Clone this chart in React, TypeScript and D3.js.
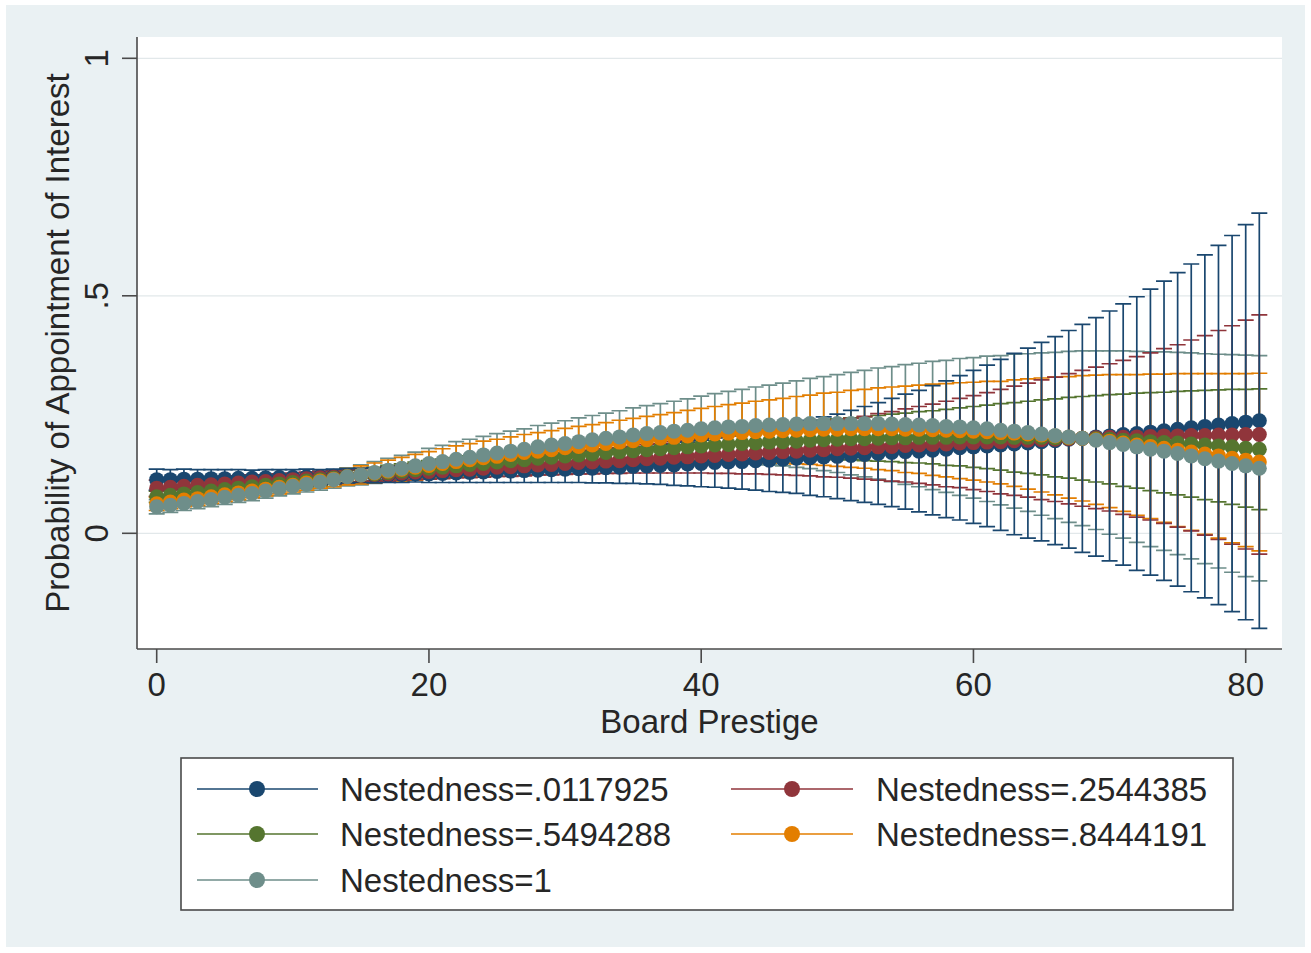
import React from 'react';
import * as d3 from 'd3';

// Board prestige values at which the predicted probabilities are evaluated
const prestige = [
  0, 1, 2, 3, 4, 5, 6, 7, 8, 9, 10, 11, 12, 13, 14, 15, 16, 17, 18, 19,
  20, 21, 22, 23, 24, 25, 26, 27, 28, 29, 30, 31, 32, 33, 34, 35, 36, 37, 38, 39,
  40, 41, 42, 43, 44, 45, 46, 47, 48, 49, 50, 51, 52, 53, 54, 55, 56, 57, 58, 59,
  60, 61, 62, 63, 64, 65, 66, 67, 68, 69, 70, 71, 72, 73, 74, 75, 76, 77, 78, 79,
  80, 81,
];

const seriesLabels = [
  'Nestedness=.0117925',
  'Nestedness=.2544385',
  'Nestedness=.5494288',
  'Nestedness=.8444191',
  'Nestedness=1',
];

// Predicted probability of appointment, one array per nestedness level
const estN0117925 = [
  0.113, 0.113, 0.114, 0.114, 0.115, 0.115, 0.116, 0.116, 0.117, 0.118,
  0.118, 0.119, 0.119, 0.120, 0.121, 0.122, 0.122, 0.123, 0.124, 0.125,
  0.125, 0.126, 0.127, 0.128, 0.129, 0.130, 0.131, 0.132, 0.133, 0.134,
  0.135, 0.136, 0.137, 0.138, 0.139, 0.141, 0.142, 0.143, 0.144, 0.146,
  0.147, 0.149, 0.150, 0.151, 0.153, 0.154, 0.156, 0.158, 0.159, 0.161,
  0.162, 0.164, 0.166, 0.168, 0.170, 0.172, 0.173, 0.175, 0.177, 0.180,
  0.182, 0.184, 0.186, 0.188, 0.190, 0.193, 0.195, 0.198, 0.200, 0.203,
  0.205, 0.208, 0.210, 0.213, 0.216, 0.219, 0.222, 0.225, 0.228, 0.231,
  0.234, 0.237,
];
const estN2544385 = [
  0.095, 0.097, 0.099, 0.101, 0.102, 0.104, 0.106, 0.108, 0.109, 0.111,
  0.113, 0.115, 0.117, 0.118, 0.120, 0.122, 0.124, 0.125, 0.127, 0.129,
  0.130, 0.132, 0.134, 0.135, 0.137, 0.139, 0.140, 0.142, 0.144, 0.145,
  0.147, 0.149, 0.150, 0.152, 0.153, 0.155, 0.157, 0.158, 0.160, 0.161,
  0.163, 0.164, 0.166, 0.167, 0.169, 0.170, 0.172, 0.173, 0.175, 0.176,
  0.178, 0.179, 0.180, 0.182, 0.183, 0.185, 0.186, 0.187, 0.188, 0.190,
  0.191, 0.192, 0.193, 0.195, 0.196, 0.197, 0.198, 0.199, 0.200, 0.201,
  0.202, 0.202, 0.203, 0.204, 0.205, 0.205, 0.206, 0.206, 0.207, 0.207,
  0.208, 0.208,
];
const estN5494288 = [
  0.077, 0.080, 0.083, 0.086, 0.089, 0.092, 0.095, 0.098, 0.101, 0.104,
  0.107, 0.110, 0.113, 0.116, 0.120, 0.123, 0.125, 0.128, 0.131, 0.134,
  0.137, 0.139, 0.142, 0.145, 0.147, 0.150, 0.153, 0.155, 0.158, 0.160,
  0.163, 0.165, 0.167, 0.170, 0.172, 0.174, 0.176, 0.178, 0.180, 0.182,
  0.184, 0.186, 0.187, 0.189, 0.190, 0.192, 0.193, 0.194, 0.196, 0.197,
  0.198, 0.199, 0.199, 0.200, 0.201, 0.201, 0.202, 0.202, 0.202, 0.203,
  0.203, 0.203, 0.203, 0.202, 0.202, 0.202, 0.201, 0.201, 0.200, 0.199,
  0.198, 0.196, 0.195, 0.193, 0.191, 0.190, 0.188, 0.186, 0.184, 0.182,
  0.179, 0.177,
];
const estN8444191 = [
  0.062, 0.066, 0.070, 0.073, 0.077, 0.081, 0.085, 0.089, 0.093, 0.097,
  0.101, 0.106, 0.110, 0.114, 0.119, 0.123, 0.127, 0.131, 0.135, 0.139,
  0.143, 0.147, 0.151, 0.155, 0.159, 0.162, 0.166, 0.170, 0.173, 0.176,
  0.180, 0.183, 0.186, 0.189, 0.192, 0.195, 0.197, 0.200, 0.202, 0.205,
  0.207, 0.209, 0.211, 0.212, 0.214, 0.215, 0.216, 0.217, 0.218, 0.219,
  0.219, 0.220, 0.220, 0.220, 0.220, 0.219, 0.219, 0.218, 0.217, 0.216,
  0.215, 0.214, 0.212, 0.211, 0.209, 0.207, 0.205, 0.202, 0.200, 0.197,
  0.194, 0.190, 0.186, 0.183, 0.179, 0.175, 0.171, 0.167, 0.163, 0.158,
  0.154, 0.150,
];
const estN1 = [
  0.056, 0.059, 0.063, 0.067, 0.071, 0.076, 0.080, 0.084, 0.089, 0.094,
  0.099, 0.103, 0.108, 0.113, 0.119, 0.123, 0.128, 0.133, 0.137, 0.142,
  0.147, 0.151, 0.156, 0.160, 0.165, 0.169, 0.173, 0.177, 0.182, 0.186,
  0.189, 0.193, 0.197, 0.200, 0.203, 0.207, 0.210, 0.212, 0.215, 0.217,
  0.220, 0.222, 0.224, 0.225, 0.227, 0.228, 0.229, 0.230, 0.231, 0.231,
  0.231, 0.231, 0.231, 0.231, 0.230, 0.229, 0.228, 0.227, 0.225, 0.224,
  0.222, 0.220, 0.217, 0.215, 0.212, 0.209, 0.206, 0.203, 0.200, 0.196,
  0.191, 0.187, 0.182, 0.177, 0.173, 0.168, 0.163, 0.157, 0.152, 0.147,
  0.142, 0.137,
];

// Half-width of the 95% confidence interval for each estimate
const moeN0117925 = [
  0.022, 0.021, 0.021, 0.020, 0.019, 0.019, 0.018, 0.017, 0.017, 0.016,
  0.016, 0.016, 0.015, 0.015, 0.015, 0.015, 0.016, 0.016, 0.017, 0.017,
  0.018, 0.019, 0.020, 0.021, 0.022, 0.023, 0.024, 0.025, 0.026, 0.027,
  0.028, 0.029, 0.031, 0.032, 0.034, 0.036, 0.038, 0.040, 0.043, 0.046,
  0.049, 0.052, 0.055, 0.058, 0.062, 0.066, 0.070, 0.074, 0.079, 0.084,
  0.089, 0.095, 0.101, 0.107, 0.114, 0.121, 0.128, 0.136, 0.144, 0.152,
  0.161, 0.170, 0.180, 0.191, 0.200, 0.209, 0.219, 0.229, 0.240, 0.251,
  0.263, 0.275, 0.288, 0.301, 0.315, 0.330, 0.345, 0.361, 0.378, 0.396,
  0.416, 0.437,
];
const moeN2544385 = [
  0.017, 0.017, 0.016, 0.016, 0.016, 0.015, 0.015, 0.015, 0.014, 0.014,
  0.014, 0.014, 0.014, 0.014, 0.014, 0.014, 0.014, 0.015, 0.015, 0.016,
  0.016, 0.017, 0.017, 0.018, 0.019, 0.019, 0.020, 0.021, 0.021, 0.022,
  0.023, 0.024, 0.025, 0.026, 0.027, 0.028, 0.030, 0.031, 0.033, 0.034,
  0.036, 0.038, 0.040, 0.042, 0.044, 0.046, 0.049, 0.051, 0.054, 0.057,
  0.060, 0.063, 0.066, 0.070, 0.073, 0.077, 0.081, 0.085, 0.090, 0.094,
  0.099, 0.104, 0.110, 0.115, 0.120, 0.126, 0.131, 0.137, 0.143, 0.149,
  0.155, 0.162, 0.169, 0.176, 0.184, 0.192, 0.201, 0.210, 0.220, 0.230,
  0.241, 0.252,
];
const moeN5494288 = [
  0.012, 0.012, 0.012, 0.012, 0.012, 0.012, 0.012, 0.012, 0.012, 0.012,
  0.012, 0.012, 0.012, 0.013, 0.013, 0.014, 0.014, 0.015, 0.015, 0.016,
  0.016, 0.017, 0.017, 0.018, 0.018, 0.019, 0.019, 0.020, 0.020, 0.021,
  0.021, 0.022, 0.023, 0.023, 0.024, 0.025, 0.026, 0.027, 0.028, 0.029,
  0.030, 0.031, 0.032, 0.033, 0.034, 0.036, 0.037, 0.038, 0.040, 0.041,
  0.043, 0.044, 0.046, 0.048, 0.050, 0.052, 0.054, 0.056, 0.059, 0.061,
  0.064, 0.067, 0.070, 0.073, 0.076, 0.079, 0.082, 0.085, 0.088, 0.091,
  0.094, 0.097, 0.100, 0.103, 0.106, 0.109, 0.112, 0.115, 0.118, 0.121,
  0.124, 0.127,
];
const moeN8444191 = [
  0.014, 0.014, 0.014, 0.014, 0.014, 0.014, 0.014, 0.014, 0.014, 0.014,
  0.014, 0.015, 0.015, 0.016, 0.017, 0.019, 0.021, 0.023, 0.025, 0.027,
  0.029, 0.031, 0.033, 0.034, 0.035, 0.036, 0.037, 0.038, 0.039, 0.040,
  0.041, 0.042, 0.043, 0.044, 0.046, 0.047, 0.049, 0.050, 0.052, 0.054,
  0.056, 0.058, 0.060, 0.062, 0.064, 0.066, 0.068, 0.071, 0.073, 0.076,
  0.078, 0.081, 0.083, 0.086, 0.088, 0.091, 0.093, 0.096, 0.098, 0.101,
  0.103, 0.106, 0.108, 0.112, 0.116, 0.120, 0.124, 0.128, 0.132, 0.136,
  0.140, 0.144, 0.148, 0.152, 0.156, 0.161, 0.165, 0.169, 0.173, 0.178,
  0.182, 0.187,
];
const moeN1 = [
  0.015, 0.015, 0.015, 0.015, 0.015, 0.015, 0.015, 0.015, 0.015, 0.015,
  0.016, 0.016, 0.017, 0.018, 0.019, 0.021, 0.023, 0.025, 0.027, 0.029,
  0.032, 0.034, 0.037, 0.038, 0.039, 0.041, 0.042, 0.043, 0.045, 0.046,
  0.048, 0.050, 0.051, 0.053, 0.055, 0.057, 0.059, 0.061, 0.063, 0.066,
  0.069, 0.072, 0.075, 0.078, 0.081, 0.084, 0.087, 0.091, 0.095, 0.099,
  0.103, 0.108, 0.112, 0.117, 0.121, 0.126, 0.130, 0.135, 0.139, 0.144,
  0.148, 0.153, 0.157, 0.162, 0.166, 0.171, 0.175, 0.180, 0.184, 0.188,
  0.193, 0.197, 0.201, 0.205, 0.209, 0.213, 0.217, 0.221, 0.225, 0.229,
  0.233, 0.237,
];

const xTicks = [0, 20, 40, 60, 80];
const yTicks = [0, 0.5, 1];
const yTickLabels = ['0', '.5', '1'];

const colors = ['#1a476f', '#90353b', '#55752f', '#e37e00', '#6e8e8a'];

const series = [
  { label: seriesLabels[0], color: colors[0], est: estN0117925, moe: moeN0117925 },
  { label: seriesLabels[1], color: colors[1], est: estN2544385, moe: moeN2544385 },
  { label: seriesLabels[2], color: colors[2], est: estN5494288, moe: moeN5494288 },
  { label: seriesLabels[3], color: colors[3], est: estN8444191, moe: moeN8444191 },
  { label: seriesLabels[4], color: colors[4], est: estN1, moe: moeN1 },
];

const FONT = '"Liberation Sans", Arial, Helvetica, sans-serif';
const FS = 33;
const TEXT = '#262626';
const AXIS = '#4a4a4a';

export default function App() {
  const W = 1311;
  const H = 953;
  const plot = { left: 137, right: 1282, top: 37, bottom: 649 };

  const x = d3.scaleLinear().domain([0, 80]).range([156.7, 1245.7]);
  const y = d3.scaleLinear().domain([0, 1]).range([533.3, 58.3]);

  const line = d3
    .line<number>()
    .x((_, i) => x(prestige[i]))
    .y((d) => y(d));

  const capHalf = 8;
  const markerR = 7.5;

  // Confidence intervals: drawn widest-last so the vertical spikes read dark
  const ciOrder = [...series].reverse();

  const legendRows = [789, 834, 880];
  const legendCols = [
    { lineX0: 197, lineX1: 318, markX: 257, textX: 340 },
    { lineX0: 731, lineX1: 853, markX: 792, textX: 876 },
  ];

  return (
    <svg
      width={W}
      height={H}
      style={{ position: 'absolute', left: 0, top: 0, background: '#ffffff' }}
      fontFamily={FONT}
    >
      {/* graph region */}
      <rect x={6} y={5} width={1299} height={942} fill="#eaf1f3" />
      {/* plot region */}
      <rect
        x={plot.left}
        y={plot.top}
        width={plot.right - plot.left}
        height={plot.bottom - plot.top}
        fill="#ffffff"
      />

      {/* horizontal grid */}
      {yTicks.map((t) => (
        <line
          key={`g${t}`}
          x1={plot.left}
          x2={plot.right}
          y1={y(t)}
          y2={y(t)}
          stroke="#e2e8ea"
          strokeWidth={1.2}
        />
      ))}

      {/* confidence intervals */}
      {ciOrder.map((s) => (
        <g key={`ci-${s.label}`} stroke={s.color} strokeWidth={1.7} fill="none">
          {prestige.map((p, i) => {
            const lo = y(s.est[i] - s.moe[i]);
            const hi = y(s.est[i] + s.moe[i]);
            const cx = x(p);
            return (
              <path
                key={p}
                d={`M${cx},${lo}V${hi}M${cx - capHalf},${hi}H${cx + capHalf}M${cx - capHalf},${lo}H${cx + capHalf}`}
              />
            );
          })}
        </g>
      ))}

      {/* estimates: connected lines with markers */}
      {series.map((s) => (
        <g key={`est-${s.label}`}>
          <path d={line(s.est) || ''} fill="none" stroke={s.color} strokeWidth={1.6} />
          {prestige.map((p, i) => (
            <circle key={p} cx={x(p)} cy={y(s.est[i])} r={markerR} fill={s.color} />
          ))}
        </g>
      ))}

      {/* axes */}
      <line x1={plot.left} x2={plot.left} y1={plot.top} y2={plot.bottom} stroke={AXIS} strokeWidth={1.6} />
      <line x1={plot.left} x2={plot.right} y1={plot.bottom} y2={plot.bottom} stroke={AXIS} strokeWidth={1.6} />

      {yTicks.map((t, i) => (
        <g key={`yt${t}`}>
          <line x1={plot.left - 15} x2={plot.left} y1={y(t)} y2={y(t)} stroke={AXIS} strokeWidth={1.6} />
          <text
            transform={`translate(108,${y(t)}) rotate(-90)`}
            textAnchor="middle"
            fontSize={FS}
            fill={TEXT}
          >
            {yTickLabels[i]}
          </text>
        </g>
      ))}

      {xTicks.map((t) => (
        <g key={`xt${t}`}>
          <line x1={x(t)} x2={x(t)} y1={plot.bottom} y2={plot.bottom + 14} stroke={AXIS} strokeWidth={1.6} />
          <text x={x(t)} y={695.5} textAnchor="middle" fontSize={FS} fill={TEXT}>
            {t}
          </text>
        </g>
      ))}

      <text x={(plot.left + plot.right) / 2} y={733} textAnchor="middle" fontSize={FS} fill={TEXT}>
        Board Prestige
      </text>
      <text
        transform={`translate(69,${(plot.top + plot.bottom) / 2}) rotate(-90)`}
        textAnchor="middle"
        fontSize={FS}
        fill={TEXT}
      >
        Probability of Appointment of Interest
      </text>

      {/* legend */}
      <rect x={181} y={758} width={1052} height={152} fill="#ffffff" stroke={AXIS} strokeWidth={1.6} />
      {series.map((s, i) => {
        const col = legendCols[i % 2];
        const cy = legendRows[Math.floor(i / 2)];
        return (
          <g key={`lg-${s.label}`}>
            <line x1={col.lineX0} x2={col.lineX1} y1={cy} y2={cy} stroke={s.color} strokeWidth={1.6} />
            <circle cx={col.markX} cy={cy} r={8} fill={s.color} />
            <text x={col.textX} y={cy + 11.5} fontSize={FS} fill={TEXT}>
              {s.label}
            </text>
          </g>
        );
      })}
    </svg>
  );
}
